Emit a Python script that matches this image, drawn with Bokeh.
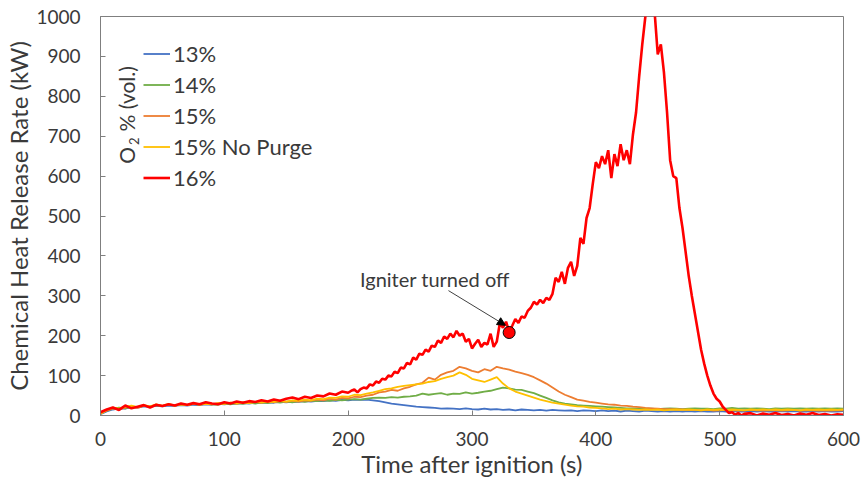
from bokeh.plotting import figure
from bokeh.models import Range1d, Legend, LegendItem, Label, Arrow, NormalHead, ColumnDataSource
from bokeh.embed import file_html
from bokeh.resources import INLINE

# ---------------- data ----------------
time_s = list(range(0, 605, 5))

hrr_13 = [3, 10, 15, 18, 17, 21, 20, 23, 22, 24, 23, 25, 24, 26, 25, 27, 26, 28, 27, 29,
          28, 30, 29, 31, 30, 32, 31, 33, 32, 34, 33, 35, 34, 36, 35, 37, 36, 38, 37, 39,
          38, 40, 39, 40, 38, 36, 33, 30, 28, 26, 24, 22, 21, 20, 19, 17, 18, 17, 16, 18,
          16, 15, 17, 15, 16, 14, 15, 13, 15, 14, 13, 14, 12, 14, 13, 12, 13, 11, 13, 12,
          11, 13, 11, 12, 10, 12, 11, 10, 12, 11, 10, 11, 10, 11,
          10, 11, 10, 11, 10, 10, 11, 10, 11, 10, 10, 11, 10, 11, 10, 10, 11, 10, 11, 10,
          10, 11, 10, 11, 10, 10, 11]

hrr_14 = [6, 12, 17, 20, 18, 23, 21, 25, 23, 26, 24, 27, 25, 28, 26, 29, 27, 30, 28, 27,
          30, 28, 31, 29, 32, 30, 33, 31, 34, 32, 35, 33, 36, 34, 37, 36, 38, 37, 39, 38,
          40, 41, 40, 42, 44, 45, 44, 46, 45, 47, 48, 50, 55, 52, 54, 56, 52, 55, 54, 58,
          55, 57, 60, 62, 66, 70, 68, 65, 64, 60, 56, 50, 44, 38, 33, 30, 28, 26, 25, 24,
          23, 22, 21, 20, 19, 18, 18, 17, 17,
          17, 16, 17, 18, 17, 16, 17, 18, 17, 17, 16, 18, 17, 19, 17, 18, 17, 18, 17, 16,
          18, 17, 18, 17, 18, 17, 18, 17, 18, 17, 18, 17]

hrr_15 = [5, 12, 18, 15, 20, 22, 19, 24, 22, 26, 24, 27, 25, 28, 26, 29, 27, 30, 28, 31,
          29, 32, 30, 33, 31, 34, 32, 35, 33, 36, 34, 37, 35, 38, 37, 40, 38, 42, 40, 44,
          43, 47, 46, 50, 52, 58, 60, 64, 62, 68, 72, 78, 82, 95, 90, 102, 108, 112, 122, 118,
          112, 108, 116, 112, 122, 118, 115, 110, 106, 102, 96, 88, 80, 70, 60, 52, 46, 40, 37, 34,
          32, 30, 28, 27, 25, 24, 22, 21, 19, 18, 17, 16, 16, 15, 15, 14,
          14, 13, 14, 12, 13, 14, 13, 12, 13, 14, 13, 12, 13, 13, 12, 13, 14, 12, 13, 13,
          12, 13, 12, 13, 13]

hrr_15np = [4, 14, 20, 17, 22, 25, 21, 26, 23, 28, 24, 29, 25, 28, 26, 30, 27, 29, 28, 31,
            29, 32, 30, 33, 31, 34, 32, 35, 34, 37, 35, 38, 37, 40, 38, 42, 41, 45, 44, 48,
            47, 52, 51, 55, 58, 62, 66, 68, 72, 74, 76, 78, 80, 84, 86, 92, 96, 100, 108, 102,
            92, 88, 84, 90, 96, 80, 68, 60, 55, 50, 45, 40, 36, 32, 30, 27, 25, 23, 22, 20,
            19, 18, 16, 17, 15, 16, 15,
            14, 15, 14, 15, 13, 14, 15, 14, 15, 14, 13, 15, 14, 15, 14, 15, 14, 13, 15, 14,
            15, 14, 15, 14, 15, 14, 13, 15, 14, 15, 14, 15, 14, 15]

# 16% is sampled more finely (2.5 s) through the growth / peak phase
time_16 = ([5 * i for i in range(41)] + [200 + 2.5 * k for k in range(1, 129)]
           + list(range(525, 605, 5)))
hrr_16 = [8, 15, 20, 14, 25, 18, 22, 26, 20, 27, 24, 28, 25, 30, 27, 31, 28, 33, 30, 28,
          33, 30, 35, 32, 36, 34, 38, 35, 40, 37, 42, 45, 41, 47, 44, 50, 48, 55, 52, 60,
          57,
          62, 65, 58, 66, 70, 68, 78, 75, 85, 82,
          92, 90, 100, 98, 110, 106, 120, 118, 132, 128,
          145, 140, 155, 152, 165, 160, 175, 172, 188, 182,
          198, 192, 205, 196, 212, 200, 205, 185, 192, 168,
          180, 190, 172, 182, 178, 205, 172, 185, 232, 220,
          235, 210, 225, 242, 232, 248, 245, 262, 270, 285,
          278, 290, 282, 295, 290, 305, 345, 335, 360, 330,
          370, 385, 350, 375, 445, 430, 495, 520, 580, 635,
          620, 650, 630, 665, 595, 655, 625, 680, 640, 665,
          630, 705, 760, 850, 930, 1000, 1040, 1030, 1010, 905,
          930, 860, 760, 640, 600, 595, 520, 470, 410, 350,
          300, 255, 210, 165, 130, 100, 75, 55, 42, 35,
          22, 14, 6, 8, 2, 6, 0, 4,
          6, 0, 5, 2, 6, 1, 4, 0, 5, 2, 6, 1, 4, 0, 3, 2]

igniter_off_t = [330]
igniter_off_hrr = [208]

series_labels = ["13%", "14%", "15%", "15% No Purge", "16%"]
series_colors = ["#4472C4", "#70AD47", "#ED7D31", "#FFC000", "#FF0000"]
x_ticks = [0, 100, 200, 300, 400, 500, 600]
y_ticks = [0, 100, 200, 300, 400, 500, 600, 700, 800, 900, 1000]

FONT = "Lato"
TXT = "#3a3a3a"
AXC = "#7f7f7f"

p = figure(width=863, height=481, output_backend="svg", toolbar_location=None,
           x_range=Range1d(0, 600), y_range=Range1d(0, 1000),
           min_border_left=100, min_border_right=20, min_border_top=16, min_border_bottom=66)
p.background_fill_color = "white"
p.border_fill_color = "white"
p.outline_line_color = AXC
p.outline_line_width = 1
p.xgrid.visible = False
p.ygrid.visible = False

for ax in (p.xaxis[0], p.yaxis[0]):
    ax.axis_line_color = AXC
    ax.major_tick_line_color = AXC
    ax.major_tick_in = 5
    ax.major_tick_out = 0
    ax.minor_tick_line_color = None
    ax.major_label_text_font = FONT
    ax.major_label_text_font_size = "19px"
    ax.major_label_text_color = TXT
    ax.axis_label_text_font = FONT
    ax.axis_label_text_font_size = "24px"
    ax.axis_label_text_font_style = "normal"
    ax.axis_label_text_color = TXT

p.xaxis.ticker = x_ticks
p.yaxis.ticker = y_ticks
p.xaxis.axis_label = "Time after ignition (s)"
p.yaxis.axis_label = "Chemical Heat Release Rate (kW)"
p.xaxis.major_label_standoff = 16
p.yaxis.major_label_standoff = 20
p.xaxis.axis_label_standoff = 0
p.yaxis.axis_label_standoff = 0

main = ColumnDataSource(dict(t=time_s, s13=hrr_13, s14=hrr_14, s15=hrr_15, s15np=hrr_15np))
src16 = ColumnDataSource(dict(t=time_16, s16=hrr_16))
renderers = []
for c, col in zip(["s13", "s14", "s15", "s15np"], series_colors[:4]):
    renderers.append(p.line("t", c, source=main, line_color=col, line_width=1.8))
renderers.append(p.line("t", "s16", source=src16, line_color=series_colors[4], line_width=2.6))

items = [LegendItem(label=l, renderers=[r]) for l, r in zip(series_labels, renderers)]
legend = Legend(items=items, location=(43, 222), padding=0, margin=0, spacing=0,
                glyph_width=27, glyph_height=31, label_height=31, label_standoff=3,
                label_text_font=FONT, label_text_font_size="22px", label_text_color=TXT,
                border_line_color=None, background_fill_alpha=0)
p.add_layout(legend)

# legend title (rotated) O2 % (vol.)
p.add_layout(Label(x=21, y=631, text="O", angle=90, angle_units="deg", text_align="left",
                   text_baseline="middle", text_font=FONT, text_font_size="21px", text_color=TXT))
p.add_layout(Label(x=27, y=678, text="2", angle=90, angle_units="deg", text_align="left",
                   text_baseline="middle", text_font=FONT, text_font_size="13px", text_color=TXT))
p.add_layout(Label(x=21, y=712, text="% (vol.)", angle=90, angle_units="deg", text_align="left",
                   text_baseline="middle", text_font=FONT, text_font_size="21px", text_color=TXT))

# igniter annotation
p.add_layout(Arrow(end=NormalHead(size=8, fill_color="black", line_color="black"),
                   x_start=281, y_start=313, x_end=327, y_end=226,
                   line_color="#404040", line_width=1))
p.add_layout(Label(x=270, y=343, text="Igniter turned off", text_align="center",
                   text_baseline="middle", text_font=FONT, text_font_size="20px", text_color=TXT))
p.scatter(igniter_off_t, igniter_off_hrr, size=12, fill_color="#FF0000", line_color="black", line_width=1)

open("out.html", "w").write(file_html(p, INLINE))
